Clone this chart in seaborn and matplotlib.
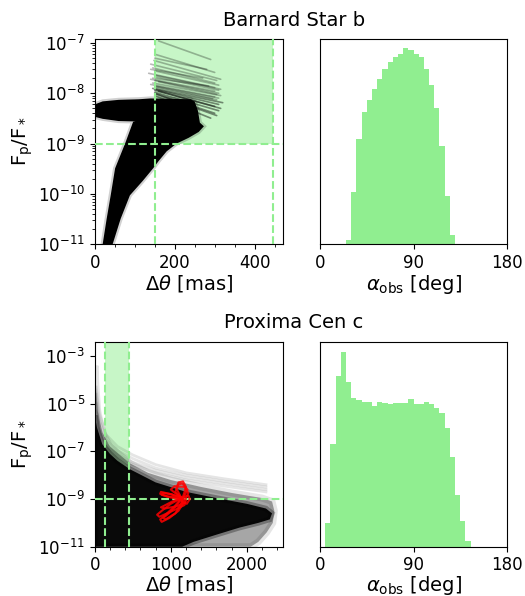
import numpy as np
import pandas as pd
import matplotlib
matplotlib.use("Agg")
import matplotlib.pyplot as plt
from matplotlib.ticker import AutoMinorLocator, NullLocator, FixedLocator
import seaborn as sns

plt.rcParams["font.size"] = 12
plt.rcParams["font.family"] = ["DejaVu Sans"]

# ---------------- data ----------------
# histograms of observed phase angle (deg), 5-degree bins
barnard_alpha_edges = [25, 30, 35, 40, 45, 50, 55, 60, 65, 70, 75, 80, 85, 90, 95, 100, 105, 110, 115, 120, 125, 130]
barnard_alpha_counts = [11, 156, 317, 396, 432, 467, 496, 526, 547, 563, 572, 588, 582, 572, 563, 526, 477, 409, 295, 143, 26]

proxima_alpha_edges = [5, 10, 15, 20, 25, 30, 35, 40, 45, 50, 55, 60, 65, 70, 75, 80, 85, 90, 95, 100,
                       105, 110, 115, 120, 125, 130, 135, 140, 145]
proxima_alpha_counts = [72, 309, 515, 588, 498, 447, 441, 437, 437, 424, 435, 433, 430, 434, 434, 434,
                        446, 429, 431, 436, 431, 419, 403, 359, 272, 157, 79, 16]

# Barnard Star b: envelope of the dense cloud of contrast tracks (sep [mas], Fp/F*)
barnard_cloud_sep = [20, 30, 40, 51, 76, 96, 102, 60, 20, 0, 0, 20, 60, 110, 140, 240, 250, 258,
                     263, 273, 260, 235, 205, 180, 160, 146, 120, 88, 65, 45]
barnard_cloud_flux = [1.0e-11, 3.2e-11, 9.3e-11, 3.2e-10, 1.0e-9, 2.7e-9, 2.75e-9, 2.8e-9, 3.1e-9, 3.4e-9,
                      6.0e-9, 6.9e-9, 7.4e-9, 7.6e-9, 7.9e-9, 7.6e-9, 6.8e-9, 4.5e-9,
                      2.6e-9, 2.2e-9, 1.7e-9, 1.3e-9, 1.0e-9, 7.0e-10, 4.5e-10, 3.2e-10, 1.8e-10, 9.3e-11, 3.2e-11, 1.0e-11]

# Barnard Star b: brighter tracks fanning out at wide separation
barnard_fan_sep_start = [160, 150, 148, 140, 145, 150, 135, 150, 155, 140, 150, 160, 145, 140,
                         150, 155, 150, 145, 150, 150, 160, 150, 150, 155, 150, 140, 150, 145]
barnard_fan_flux_start = [1.1e-7, 6.0e-8, 4.5e-8, 3.8e-8, 3.2e-8, 2.8e-8, 2.5e-8, 2.3e-8, 2.1e-8, 1.9e-8,
                          1.8e-8, 1.7e-8, 1.6e-8, 1.5e-8, 1.4e-8, 1.35e-8, 1.3e-8, 1.25e-8, 1.2e-8,
                          1.15e-8, 1.1e-8, 1.05e-8, 1.0e-8, 9.5e-9, 9.0e-9, 3.0e-8, 5.0e-8, 2.0e-8]
barnard_fan_sep_end = [290, 300, 315, 305, 300, 310, 300, 315, 310, 300, 310, 305, 315, 300,
                       310, 295, 305, 320, 310, 300, 315, 310, 300, 305, 290, 270, 280, 285]
barnard_fan_flux_end = [4.7e-8, 2.6e-8, 1.9e-8, 1.8e-8, 1.6e-8, 1.45e-8, 1.3e-8, 1.2e-8, 1.15e-8, 1.1e-8,
                        1.0e-8, 9.5e-9, 9.0e-9, 8.5e-9, 8.0e-9, 7.8e-9, 7.4e-9, 6.5e-9, 6.0e-9,
                        5.5e-9, 5.0e-9, 4.5e-9, 4.0e-9, 3.6e-9, 3.2e-9, 2.0e-8, 3.0e-8, 1.4e-8]

# Proxima Cen c: outer (sparser) cloud and dense core of contrast tracks
proxima_outer_sep = [0, 5, 15, 40, 100, 200, 350, 460, 700, 1000, 1400, 1800, 2200, 2330, 2360, 2340,
                     2260, 2150, 2050, 0]
proxima_outer_flux = [3e-4, 4e-4, 6e-5, 5e-6, 6.3e-7, 1.6e-7, 6.3e-8, 3.2e-8, 1.26e-8, 6.3e-9, 3.2e-9,
                      1.8e-9, 1.1e-9, 7.9e-10, 3.2e-10, 1.0e-10, 4.0e-11, 1.6e-11, 1.0e-11, 1.0e-11]
proxima_core_sep = [0, 30, 100, 200, 300, 460, 800, 1200, 1600, 2000, 2250, 2330, 2300, 2150, 1900,
                    1600, 1300, 1150, 0]
proxima_core_flux = [3.2e-6, 1.0e-6, 2.0e-7, 7.9e-8, 4.0e-8, 1.8e-8, 5.0e-9, 2.0e-9, 1.1e-9, 6.3e-10,
                     4.0e-10, 2.5e-10, 1.4e-10, 1.0e-10, 6.3e-11, 3.2e-11, 1.6e-11, 1.0e-11, 1.0e-11]

# Proxima Cen c: faint upper tracks
proxima_faint_sep = [20, 60, 150, 300, 500, 800, 1200, 1700, 2250]
proxima_faint_flux = {
    "a": [5.0e-5, 4.0e-6, 5.0e-7, 1.6e-7, 7.1e-8, 2.8e-8, 1.26e-8, 7.1e-9, 4.0e-9],
    "b": [2.5e-5, 2.0e-6, 3.2e-7, 1.1e-7, 5.0e-8, 2.0e-8, 1.0e-8, 5.6e-9, 3.2e-9],
    "c": [1.0e-5, 1.0e-6, 2.0e-7, 7.9e-8, 3.5e-8, 1.6e-8, 7.9e-9, 4.5e-9, 2.5e-9],
    "d": [5.0e-6, 6.3e-7, 1.4e-7, 5.6e-8, 2.8e-8, 1.26e-8, 6.3e-9, 3.5e-9, 2.0e-9],
}

# Proxima Cen c: red (observed-orbit) tracks
red_tracks_sep = {
    1: [1140, 1050, 950, 860, 880, 980, 1100, 1160, 1140],
    2: [1140, 1000, 880, 820, 850, 1050, 1180, 1200, 1140],
    3: [1140, 1020, 900, 870, 920, 1080, 1190, 1140],
    4: [1140, 1000, 870, 860, 950, 1100, 1140],
    5: [1140, 1080, 1100, 1160, 1200, 1160],
    6: [1140, 1000, 1050, 1180, 1230, 1200],
    7: [1140, 1230, 1250, 1210, 1140],
    8: [1140, 1060, 1090, 1150, 1220, 1170],
    9: [1140, 960, 880, 900, 1010, 1140],
    10: [1140, 1090, 990, 900, 930, 1060, 1150],
}
red_tracks_flux = {
    1: [1.1e-9, 5.0e-10, 2.5e-10, 1.4e-10, 1.1e-10, 1.6e-10, 3.2e-10, 6.3e-10, 1.1e-9],
    2: [1.1e-9, 6.3e-10, 3.2e-10, 2.2e-10, 1.8e-10, 3.5e-10, 5.6e-10, 8.9e-10, 1.1e-9],
    3: [1.1e-9, 7.9e-10, 5.0e-10, 4.5e-10, 4.0e-10, 5.0e-10, 7.1e-10, 1.1e-9],
    4: [1.1e-9, 1.6e-9, 2.0e-9, 1.66e-9, 1.26e-9, 1.0e-9, 1.1e-9],
    5: [1.1e-9, 2.5e-9, 5.0e-9, 5.5e-9, 3.2e-9, 1.26e-9],
    6: [1.1e-9, 2.5e-9, 3.5e-9, 3.2e-9, 1.8e-9, 1.1e-9],
    7: [1.1e-9, 1.4e-9, 1.0e-9, 6.3e-10, 7.9e-10],
    8: [1.1e-9, 2.0e-9, 4.0e-9, 4.5e-9, 2.5e-9, 1.2e-9],
    9: [1.1e-9, 1.3e-9, 1.5e-9, 1.8e-9, 1.6e-9, 1.1e-9],
    10: [1.1e-9, 6.0e-10, 2.8e-10, 1.6e-10, 1.4e-10, 2.5e-10, 8.0e-10],
}

# detectability windows
barnard_sep_window = [150, 445]
proxima_sep_window = [140, 454]
contrast_floor = 1e-9

# ---------------- figure ----------------
fig = plt.figure(figsize=(5.25, 5.96), dpi=100)
W, H = 525.0, 596.0
def add_ax(x0, y0, x1, y1):
    return fig.add_axes([x0 / W, 1 - y1 / H, (x1 - x0) / W, (y1 - y0) / H])

axB = add_ax(94.7, 38.7, 282.7, 244.0)
axBh = add_ax(320.0, 38.7, 507.0, 244.0)
axP = add_ax(94.7, 342.0, 282.7, 546.7)
axPh = add_ax(320.0, 342.0, 507.0, 546.7)

green = "lightgreen"
LAB = 14

# ---- Barnard left ----
ax = axB
ax.set_yscale("log")
ax.set_xlim(0, 470)
ax.set_ylim(1e-11, 1.22e-7)
ax.fill_between(barnard_sep_window, contrast_floor, 1.22e-7, color=green, alpha=0.5, lw=0, zorder=1)
ax.fill(barnard_cloud_sep, barnard_cloud_flux, facecolor="black", edgecolor=(0, 0, 0, 0.18),
        linewidth=3, zorder=3)
for i, (xs, ys, xe, ye) in enumerate(zip(barnard_fan_sep_start, barnard_fan_flux_start,
                                         barnard_fan_sep_end, barnard_fan_flux_end)):
    a = 0.45 if ys < 1.3e-8 else 0.28
    ax.plot([xs, xe], [ys, ye], color="black", alpha=a, lw=1.2, solid_capstyle="round", zorder=3)
for xv in barnard_sep_window:
    ax.axvline(xv, color=green, ls="--", lw=1.5, zorder=4)
ax.axhline(contrast_floor, color=green, ls="--", lw=1.5, zorder=4)
ax.set_xticks([0, 200, 400])
ax.xaxis.set_minor_locator(AutoMinorLocator(4))
ax.set_yticks([1e-11, 1e-10, 1e-9, 1e-8, 1e-7])
ax.set_xlabel(r"$\Delta\theta$ [mas]", fontsize=LAB, labelpad=1)
ax.set_ylabel(r"$\mathrm{F_p/F_*}$", fontsize=LAB, labelpad=2)

# ---- Barnard histogram ----
ax = axBh
b_centers = [(a + b) / 2 for a, b in zip(barnard_alpha_edges[:-1], barnard_alpha_edges[1:])]
sns.histplot(x=b_centers, weights=barnard_alpha_counts, bins=barnard_alpha_edges, ax=ax,
             color=green, alpha=1, edgecolor="none", linewidth=0)
ax.set_xlim(0, 180)
ax.set_xticks([0, 90, 180])
ax.set_yticks([])
ax.set_ylabel("")
ax.set_xlabel(r"$\alpha_\mathrm{obs}$ [deg]", fontsize=LAB, labelpad=1)

# ---- Proxima left ----
ax = axP
ax.set_yscale("log")
ax.set_xlim(0, 2470)
ax.set_ylim(1e-11, 3.9e-3)
ax.fill_between(proxima_sep_window, contrast_floor, 3.9e-3, color=green, alpha=0.5, lw=0, zorder=1)
for k, fl in proxima_faint_flux.items():
    ax.plot(proxima_faint_sep, fl, color="black", alpha=0.1, lw=2, zorder=2)
ax.fill(proxima_outer_sep, proxima_outer_flux, facecolor=(0, 0, 0, 0.35), edgecolor=(0, 0, 0, 0.1),
        linewidth=5, zorder=2)
ax.fill(proxima_core_sep, proxima_core_flux, facecolor=(0, 0, 0, 0.95), edgecolor=(0, 0, 0, 0.3),
        linewidth=4, zorder=2)
for k in red_tracks_sep:
    sns.lineplot(x=red_tracks_sep[k], y=red_tracks_flux[k], sort=False, estimator=None,
                 color="red", lw=1.5, alpha=0.85, ax=ax, zorder=5)
for xv in proxima_sep_window:
    ax.axvline(xv, color=green, ls="--", lw=1.5, zorder=4)
ax.axhline(contrast_floor, color=green, ls="--", lw=1.5, zorder=4)
ax.set_xticks([0, 1000, 2000])
ax.xaxis.set_minor_locator(AutoMinorLocator(5))
ax.yaxis.set_major_locator(FixedLocator([1e-11, 1e-9, 1e-7, 1e-5, 1e-3]))
ax.yaxis.set_minor_locator(NullLocator())
ax.set_xlabel(r"$\Delta\theta$ [mas]", fontsize=LAB, labelpad=0)
ax.set_ylabel(r"$\mathrm{F_p/F_*}$", fontsize=LAB, labelpad=2)

# ---- Proxima histogram ----
ax = axPh
p_centers = [(a + b) / 2 for a, b in zip(proxima_alpha_edges[:-1], proxima_alpha_edges[1:])]
sns.histplot(x=p_centers, weights=proxima_alpha_counts, bins=proxima_alpha_edges, ax=ax,
             color=green, alpha=1, edgecolor="none", linewidth=0)
ax.set_xlim(0, 180)
ax.set_xticks([0, 90, 180])
ax.set_yticks([])
ax.set_ylabel("")
ax.set_xlabel(r"$\alpha_\mathrm{obs}$ [deg]", fontsize=LAB, labelpad=0)

fig.text(294 / W, 1 - 20 / H, "Barnard Star b", ha="center", va="center", fontsize=14)
fig.text(294 / W, 1 - 323 / H, "Proxima Cen c", ha="center", va="center", fontsize=14)

fig.savefig("out.png", dpi=100)
